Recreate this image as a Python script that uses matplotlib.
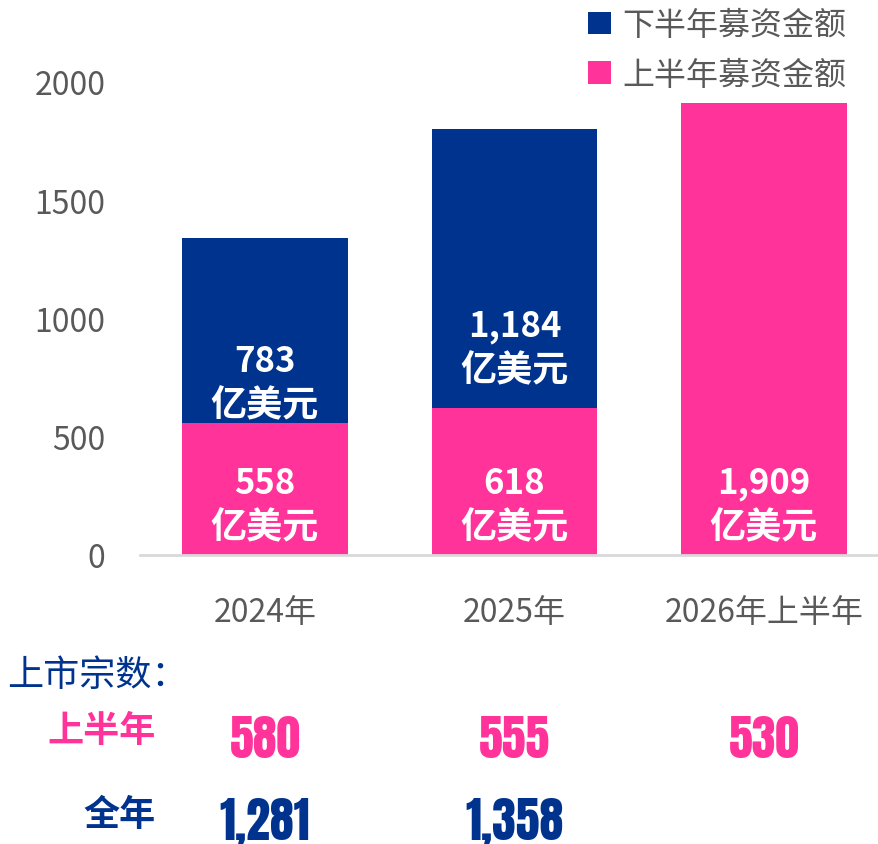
import matplotlib
matplotlib.use("Agg")
import matplotlib.pyplot as plt
from matplotlib.transforms import offset_copy, blended_transform_factory

plt.rcParams['font.family'] = ['Noto Sans CJK SC', 'DejaVu Sans']

# ---- data ----
categories = ["2024年", "2025年", "2026年上半年"]
h1_amount = [558, 618, 1909]      # 上半年募资金额 (亿美元)
h2_amount = [783, 1184, 0]        # 下半年募资金额 (亿美元)
h1_label = ["558", "618", "1,909"]
h2_label = ["783", "1,184", ""]
yticks = [0, 500, 1000, 1500, 2000]
h1_count = ["580", "555", "530"]
full_count = ["1,281", "1,358", ""]

# ---- style ----
NAVY = "#00338D"
PINK = "#FF3399"
GRAY = "#595959"
W, H = 879, 845
fig = plt.figure(figsize=(W / 100, H / 100), dpi=100)

def fx(px):
    return px / W

def fy(py):
    return 1 - py / H

ax = fig.add_axes([fx(140), fy(555.5), fx(879) - fx(140), fy(83) - fy(555.5)])
x = list(range(len(categories)))
bw = 0.665
b1 = ax.bar(x, h1_amount, width=bw, color=PINK, label="上半年募资金额", zorder=2)
b2 = ax.bar(x, h2_amount, width=bw, bottom=h1_amount, color=NAVY,
            label="下半年募资金额", zorder=2)

ax.set_xlim(-0.501, 2.461)
ax.set_ylim(0, 2000)
ax.set_yticks(yticks)
ax.set_yticklabels([str(v) for v in yticks], fontsize=23, color=GRAY)
ax.tick_params(axis='y', length=0, pad=25)
ax.set_xticks([])
for s in ["top", "right", "left"]:
    ax.spines[s].set_visible(False)
ax.spines["bottom"].set_color("#D9D9D9")
ax.spines["bottom"].set_linewidth(2)

# x category labels
for i, c in enumerate(categories):
    ax.text(i, -0.1217, c, transform=ax.get_xaxis_transform(), ha='center',
            va='center', fontsize=23, color=GRAY)

# bar value labels (two lines)
h1_label_y = 212
h2_label_frac = 0.22
def two_line(xi, yv, num):
    t_up = offset_copy(ax.transData, fig=fig, y=15.5, units='points')
    t_dn = offset_copy(ax.transData, fig=fig, y=-16.5, units='points')
    ax.text(xi, yv, num, transform=t_up, ha='center', va='center',
            fontsize=25, fontweight='bold', color='white', zorder=3)
    ax.text(xi, yv, "亿美元", transform=t_dn, ha='center', va='center',
            fontsize=26, fontweight='bold', color='white', zorder=3)

for i in x:
    two_line(i, h1_label_y, h1_label[i])
    if h2_amount[i] > 0:
        two_line(i, h1_amount[i] + h2_amount[i] * h2_label_frac, h2_label[i])

# legend
leg = fig.legend(handles=[b2, b1], labels=["下半年募资金额", "上半年募资金额"],
                 loc='upper right', bbox_to_anchor=(fx(846), fy(10)),
                 frameon=False, fontsize=23, handlelength=0.7, handleheight=0.7,
                 handletextpad=0.35, labelspacing=0.55, borderpad=0, borderaxespad=0)
for t in leg.get_texts():
    t.set_color(GRAY)

# table below
fig.text(fx(7), fy(676), "上市宗数：", fontsize=26, color=NAVY, ha='left', va='center')
fig.text(fx(156), fy(732), "上半年", fontsize=26, fontweight='bold', color=PINK,
         ha='right', va='center')
fig.text(fx(156), fy(816), "全年", fontsize=26, fontweight='bold', color=NAVY,
         ha='right', va='center')

num_font = ['Anton', 'DejaVu Sans']
row_tr = blended_transform_factory(ax.transData, fig.transFigure)
for i in x:
    fig.text(i, fy(740), h1_count[i], fontsize=34.5, color=PINK,
             ha='center', va='center', family=num_font, transform=row_tr)
    if full_count[i]:
        fig.text(i, fy(822), full_count[i], fontsize=34.5, color=NAVY,
                 ha='center', va='center', family=num_font, transform=row_tr)

fig.savefig("out.png", dpi=100)
